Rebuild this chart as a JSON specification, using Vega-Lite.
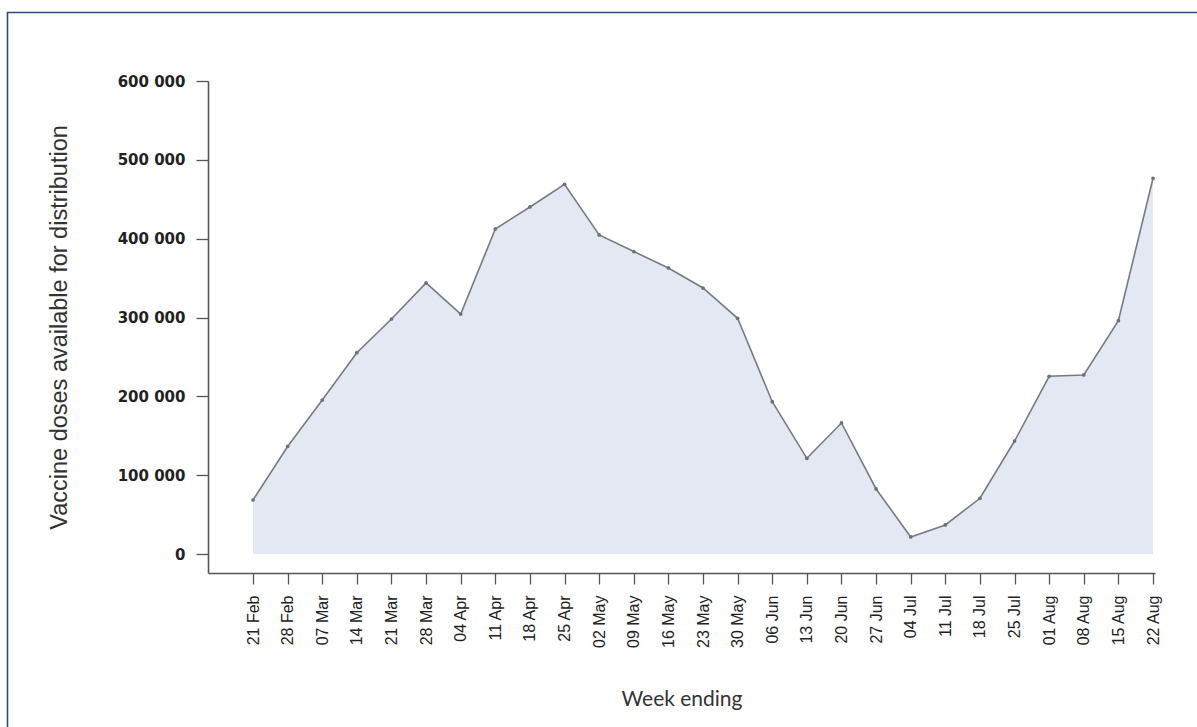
{
  "$schema": "https://vega.github.io/schema/vega-lite/v6.json",
  "width": 947,
  "height": 492,
  "autosize": {"type": "none"},
  "padding": {"left": 208, "top": 81, "right": 42, "bottom": 154},
  "background": "white",
  "config": {
    "view": {"stroke": null},
    "axis": {
      "grid": false,
      "domainColor": "#555555",
      "domainWidth": 1.6,
      "tickColor": "#555555",
      "tickWidth": 1.3,
      "labelColor": "#222222",
      "titleColor": "#333333",
      "titleFontWeight": "normal"
    }
  },
  "resolve": {"axis": {"x": "independent", "y": "independent"}},
  "datasets": {
    "doses": [
      {"week": "2021-02-21", "doses": 68500},
      {"week": "2021-02-28", "doses": 136400},
      {"week": "2021-03-07", "doses": 195300},
      {"week": "2021-03-14", "doses": 255400},
      {"week": "2021-03-21", "doses": 298100},
      {"week": "2021-03-28", "doses": 343800},
      {"week": "2021-04-04", "doses": 304400},
      {"week": "2021-04-11", "doses": 412300},
      {"week": "2021-04-18", "doses": 440200},
      {"week": "2021-04-25", "doses": 469000},
      {"week": "2021-05-02", "doses": 404700},
      {"week": "2021-05-09", "doses": 383700},
      {"week": "2021-05-16", "doses": 362800},
      {"week": "2021-05-23", "doses": 337400},
      {"week": "2021-05-30", "doses": 299000},
      {"week": "2021-06-06", "doses": 193200},
      {"week": "2021-06-13", "doses": 121400},
      {"week": "2021-06-20", "doses": 166200},
      {"week": "2021-06-27", "doses": 82500},
      {"week": "2021-07-04", "doses": 21600},
      {"week": "2021-07-11", "doses": 36800},
      {"week": "2021-07-18", "doses": 70700},
      {"week": "2021-07-25", "doses": 143300},
      {"week": "2021-08-01", "doses": 225400},
      {"week": "2021-08-08", "doses": 227100},
      {"week": "2021-08-15", "doses": 296000},
      {"week": "2021-08-22", "doses": 476600}
    ]
  },
  "layer": [
    {
      "data": {"name": "doses"},
      "mark": {"type": "area", "color": "#e3e8f2", "opacity": 1},
      "encoding": {
        "x": {
          "field": "week",
          "type": "temporal",
          "scale": {"type": "utc", "domain": [1613079360000, 1629624960000], "nice": false},
          "axis": {
            "title": "Week ending",
            "values": [1613865600000, 1614470400000, 1615075200000, 1615680000000, 1616284800000, 1616889600000, 1617494400000, 1618099200000, 1618704000000, 1619308800000, 1619913600000, 1620518400000, 1621123200000, 1621728000000, 1622332800000, 1622937600000, 1623542400000, 1624147200000, 1624752000000, 1625356800000, 1625961600000, 1626566400000, 1627171200000, 1627776000000, 1628380800000, 1628985600000, 1629590400000],
            "labelExpr": "utcFormat(datum.value, '%d %b')",
            "labelOverlap": false,
            "labelBound": false,
            "labelFlush": false,
            "labelAngle": -90,
            "labelFont": "Liberation Sans",
            "labelFontSize": 16,
            "tickSize": 11,
            "labelPadding": 11,
            "titleFont": "Lato",
            "titleFontSize": 21,
            "titlePadding": 41
          }
        },
        "y": {
          "field": "doses",
          "type": "quantitative",
          "scale": {"domain": [-24100, 600000], "nice": false, "zero": false},
          "axis": {
            "title": "Vaccine doses available for distribution",
            "values": [0, 100000, 200000, 300000, 400000, 500000, 600000],
            "labelExpr": "replace(format(datum.value, ','), ',', ' ')",
            "labelFont": "DejaVu Sans",
            "labelFontWeight": "bold",
            "labelFontSize": 15,
            "tickSize": 12,
            "labelPadding": 11,
            "titleFont": "Liberation Sans",
            "titleFontSize": 23.5,
            "titlePadding": 46
          }
        },
        "y2": {"datum": 0}
      }
    },
    {
      "data": {"name": "doses"},
      "mark": {"type": "line", "color": "#767b83", "strokeWidth": 1.6},
      "encoding": {
        "x": {"field": "week", "type": "temporal", "axis": null},
        "y": {"field": "doses", "type": "quantitative", "axis": null}
      }
    },
    {
      "data": {"name": "doses"},
      "mark": {"type": "point", "filled": true, "size": 14, "color": "#6c7179", "opacity": 1},
      "encoding": {
        "x": {"field": "week", "type": "temporal", "axis": null},
        "y": {"field": "doses", "type": "quantitative", "axis": null}
      }
    },
    {
      "data": {"values": [{"frame": "border"}]},
      "mark": {"type": "rect", "clip": false, "filled": false, "stroke": "#2a4d78", "strokeWidth": 1.6},
      "encoding": {
        "x": {"datum": {"year": 2021, "month": 1, "date": 2, "hours": 8, "minutes": 31, "utc": true}, "type": "temporal", "axis": null},
        "x2": {"datum": {"year": 2021, "month": 9, "date": 20, "utc": true}},
        "y": {"datum": 686900, "type": "quantitative", "axis": null},
        "y2": {"datum": -400000}
      }
    }
  ]
}
